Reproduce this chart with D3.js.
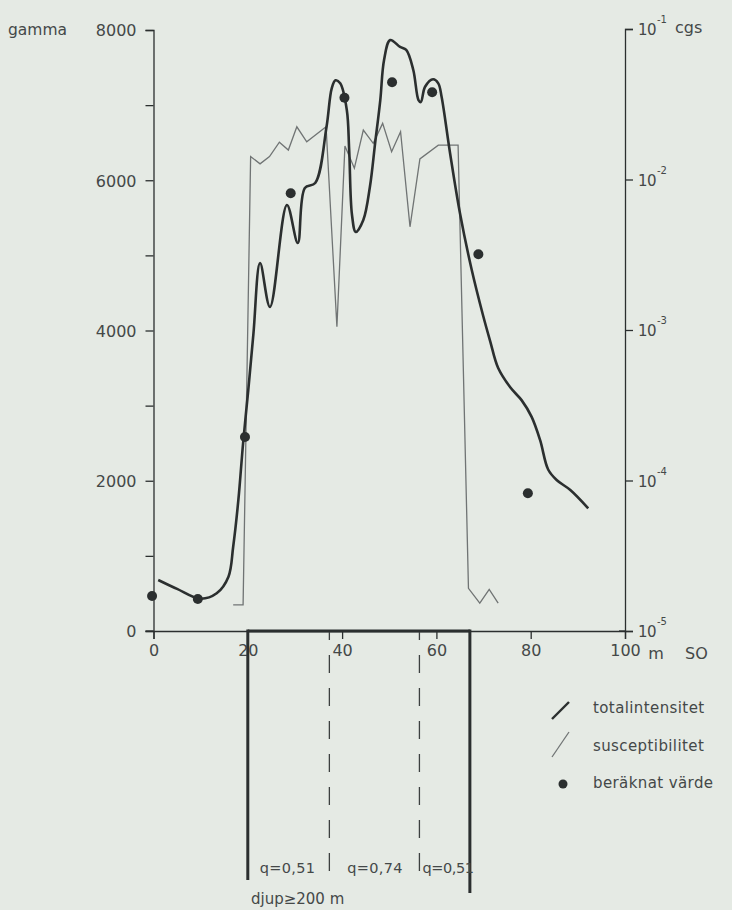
<!DOCTYPE html>
<html>
<head>
<meta charset="utf-8">
<script src="https://cdn.jsdelivr.net/npm/d3@7"></script>
<style>
  html, body { margin: 0; padding: 0; background: #e5eae4; }
  svg { display: block; }
  text { font-family: "DejaVu Sans", sans-serif; fill: #444848; }
</style>
</head>
<body>
<svg id="chart" width="732" height="910"></svg>
<script>
// Profile distance (m) and total intensity (gamma)
const totalM = [1.0, 5.0, 9.9, 13.4, 15.9, 16.9, 18.0, 19.0, 20.1, 21.2, 22.6, 24.7, 28.3, 30.6, 32.1, 34.3,
  36.7, 37.8, 38.6, 39.6, 41.0, 41.5, 42.1, 42.9, 44.5, 45.9, 47.0, 48.1, 48.9, 50.2, 52.3, 53.6, 55.1, 56.2,
  56.7, 57.6, 59.3, 60.4, 61.1, 62.9, 65.0, 67.5, 69.9, 71.4, 73.1, 75.7, 78.1, 80.2, 82.0, 83.7, 85.5, 88.4, 92.2];
const totalGamma = [679, 560, 430, 502, 723, 1122, 1744, 2499, 3208, 3963, 4898, 4313, 5671, 5165, 5897, 5963,
  6713, 7224, 7330, 7290, 6935, 6403, 5537, 5311, 5471, 5914, 6492, 7068, 7601, 7867, 7774, 7734, 7468, 7068,
  7041, 7245, 7344, 7290, 7112, 6359, 5560, 4805, 4200, 3860, 3500, 3240, 3070, 2850, 2540, 2150, 2010, 1877, 1633];

// Susceptibility (cgs)
const suscM = [16.9, 19.0, 20.6, 22.6, 24.6, 26.7, 28.6, 30.4, 32.5, 36.6, 38.9, 40.6, 42.6, 44.5, 46.6, 48.6,
  50.5, 52.4, 54.4, 56.5, 60.4, 64.6, 66.8, 69.2, 71.2, 73.1];
const suscCgs = [1.49e-5, 1.49e-5, 1.42e-2, 1.27e-2, 1.42e-2, 1.77e-2, 1.57e-2, 2.24e-2, 1.78e-2, 2.24e-2, 1.05e-3,
  1.67e-2, 1.19e-2, 2.13e-2, 1.74e-2, 2.36e-2, 1.53e-2, 2.08e-2, 4.85e-3, 1.37e-2, 1.69e-2, 1.69e-2, 1.92e-5,
  1.53e-5, 1.89e-5, 1.53e-5];

// Computed values (gamma)
const calcM = [-0.3, 9.4, 19.4, 29.1, 40.5, 50.6, 59.1, 68.9, 79.4];
const calcGamma = [466, 426, 2582, 5826, 7099, 7304, 7171, 5014, 1833];

// Axis ticks
const gammaTicks = [0, 1000, 2000, 3000, 4000, 5000, 6000, 7000, 8000];
const gammaLabels = [0, 2000, 4000, 6000, 8000];
const cgsExponents = [-1, -2, -3, -4, -5];
const distTicks = [0, 20, 40, 60, 80, 100];

// Body model below the profile
const bodyEdges = [20.0, 67.1];
const bodySplits = [37.3, 56.4];
const qLabels = ["q=0,51", "q=0,74", "q=0,51"];

// Legend
const legendItems = ["totalintensitet", "susceptibilitet", "beräknat värde"];

const svg = d3.select("#chart");
const ink = "#2b2f2f";
const thinInk = "#707474";
const labelFont = "'DejaVu Sans', sans-serif";

const x = d3.scaleLinear().domain([0, 100]).range([153.5, 625]);
const yG = d3.scaleLinear().domain([0, 8000]).range([631, 30]);
const yS = d3.scaleLog().domain([1e-5, 1e-1]).range([631, 29]);

// Left axis (gamma)
const leftAxis = d3.axisLeft(yG).tickValues(gammaTicks).tickSize(8)
  .tickFormat(d => gammaLabels.includes(d) ? String(d) : "").tickPadding(9);
const gL = svg.append("g").attr("transform", `translate(${x(0)},0)`).call(leftAxis);
gL.select(".domain").attr("stroke", ink).attr("stroke-width", 1.3);
gL.selectAll(".tick line").attr("stroke", ink).attr("stroke-width", 1.3);
gL.selectAll(".tick text").attr("font-size", 16).attr("fill", "#444848")
  .style("font-family", labelFont).attr("dy", "0.36em");
svg.append("text").attr("x", 8).attr("y", yG(8000) + 5).attr("font-size", 15.5).text("gamma");

// Bottom axis (distance)
const bottomAxis = d3.axisBottom(x).tickValues(distTicks).tickSize(8).tickFormat(d3.format("d")).tickPadding(6);
const gB = svg.append("g").attr("transform", `translate(0,${yG(0)})`).call(bottomAxis);
gB.select(".domain").attr("stroke", ink).attr("stroke-width", 1.3);
gB.selectAll(".tick line").attr("stroke", ink).attr("stroke-width", 1.3);
gB.selectAll(".tick text").attr("font-size", 16).attr("fill", "#444848")
  .style("font-family", labelFont);
svg.append("line").attr("x1", x(0) - 8).attr("x2", x(0)).attr("y1", yG(0)).attr("y2", yG(0))
  .attr("stroke", ink).attr("stroke-width", 1.3);
svg.append("text").attr("x", x(100) + 31).attr("y", yG(0) + 28).attr("text-anchor", "middle")
  .attr("font-size", 16).text("m");
svg.append("text").attr("x", x(100) + 60).attr("y", yG(0) + 28).attr("font-size", 16).text("SO");

// Right axis (susceptibility, logarithmic)
const rightAxis = d3.axisRight(yS).tickValues(cgsExponents.map(e => Math.pow(10, e))).tickSize(8).tickFormat("");
const gR = svg.append("g").attr("transform", `translate(${x(100)},0)`).call(rightAxis);
gR.select(".domain").attr("stroke", ink).attr("stroke-width", 1.3);
gR.selectAll(".tick line").attr("stroke", ink).attr("stroke-width", 1.3);
svg.append("line").attr("x1", x(100) - 6).attr("x2", x(100)).attr("y1", yS(1e-5)).attr("y2", yS(1e-5))
  .attr("stroke", ink).attr("stroke-width", 1.3);
cgsExponents.forEach(e => {
  const t = svg.append("text").attr("x", x(100) + 13).attr("y", yS(Math.pow(10, e)) + 6).attr("font-size", 15)
    .attr("letter-spacing", -0.6);
  t.append("tspan").text("10");
  t.append("tspan").attr("dx", 1).attr("dy", -12).attr("font-size", 10).attr("letter-spacing", 0).text(String(e));
});
svg.append("text").attr("x", x(100) + 50).attr("y", yS(1e-1) + 4).attr("font-size", 16).text("cgs");

// Susceptibility line
const suscLine = d3.line().x((d, i) => x(suscM[i])).y((d, i) => yS(suscCgs[i]));
svg.append("path").datum(suscM).attr("d", suscLine).attr("fill", "none")
  .attr("stroke", thinInk).attr("stroke-width", 1.3).attr("stroke-linejoin", "miter");

// Total intensity curve
const totalLine = d3.line().x((d, i) => x(totalM[i])).y((d, i) => yG(totalGamma[i]))
  .curve(d3.curveCatmullRom.alpha(0.5));
svg.append("path").datum(totalM).attr("d", totalLine).attr("fill", "none")
  .attr("stroke", ink).attr("stroke-width", 2.6).attr("stroke-linejoin", "round");

// Computed values
svg.selectAll("circle.calc").data(calcM).join("circle").attr("class", "calc")
  .attr("cx", (d) => x(d)).attr("cy", (d, i) => yG(calcGamma[i])).attr("r", 5).attr("fill", ink);

// Body model
const bodyG = svg.append("g");
bodyG.append("line").attr("x1", x(bodyEdges[0])).attr("x2", x(bodyEdges[1])).attr("y1", yG(0)).attr("y2", yG(0))
  .attr("stroke", ink).attr("stroke-width", 3);
bodyG.append("line").attr("x1", x(bodyEdges[0])).attr("x2", x(bodyEdges[0])).attr("y1", yG(0) - 1.5).attr("y2", 880)
  .attr("stroke", ink).attr("stroke-width", 3);
bodyG.append("line").attr("x1", x(bodyEdges[1])).attr("x2", x(bodyEdges[1])).attr("y1", yG(0) - 1.5).attr("y2", 893)
  .attr("stroke", ink).attr("stroke-width", 3);
bodySplits.forEach(m => {
  bodyG.append("line").attr("x1", x(m)).attr("x2", x(m)).attr("y1", yG(0) + 1).attr("y2", 880)
    .attr("stroke", "#3c4040").attr("stroke-width", 1.3)
    .attr("stroke-dasharray", "18,15").attr("stroke-dashoffset", 10);
});
// q labels sit just right of each section's left boundary
const qStarts = [x(bodyEdges[0]) + 12, x(bodySplits[0]) + 18, x(bodySplits[1]) + 3];
const qSpacing = [0.3, 0.3, -0.4];
qLabels.forEach((q, i) => {
  svg.append("text").attr("x", qStarts[i]).attr("y", 873).attr("font-size", 14.5)
    .attr("letter-spacing", qSpacing[i]).text(q);
});
svg.append("text").attr("x", 251).attr("y", 904).attr("font-size", 15).text("djup\u2265200 m");

// Legend
const lx = 552, tx = 593;
svg.append("line").attr("x1", lx).attr("y1", 719).attr("x2", lx + 17).attr("y2", 702)
  .attr("stroke", ink).attr("stroke-width", 2.4);
svg.append("line").attr("x1", lx).attr("y1", 757).attr("x2", lx + 17).attr("y2", 732)
  .attr("stroke", thinInk).attr("stroke-width", 1.3);
svg.append("circle").attr("cx", lx + 11).attr("cy", 784).attr("r", 4.5).attr("fill", ink);
[713, 751, 788].forEach((yy, i) => {
  svg.append("text").attr("x", tx).attr("y", yy).attr("font-size", 15).attr("letter-spacing", 0.4)
    .text(legendItems[i]);
});
</script>
</body>
</html>
